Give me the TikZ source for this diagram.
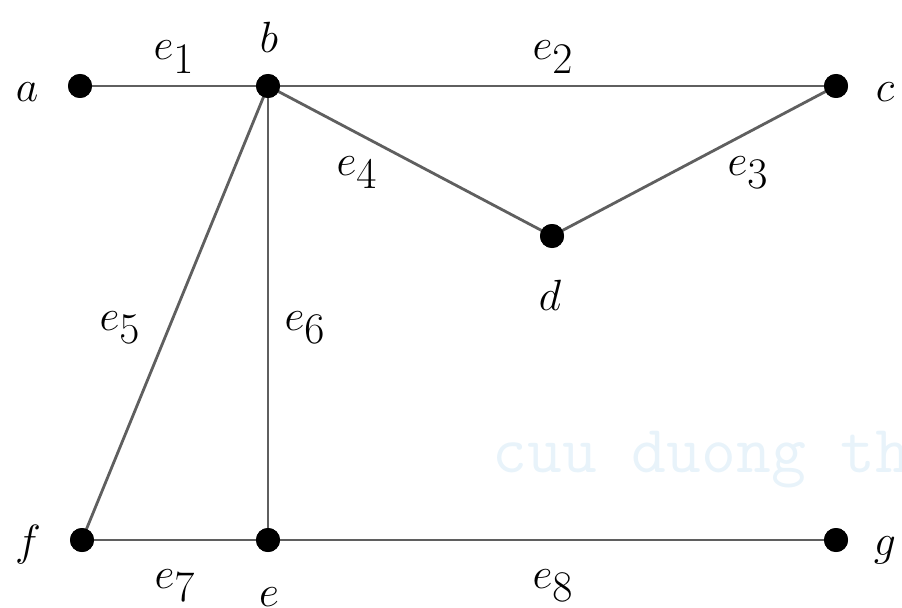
\documentclass[tikz,border=0pt]{standalone}
\usepackage{xcolor}
\definecolor{edgegray}{RGB}{95,95,95}
\definecolor{wmark}{RGB}{232,243,250}
\begin{document}
\begin{tikzpicture}[x=0.02cm,y=-0.02cm,
  vertex/.style={circle,fill=black,inner sep=0pt,minimum size=24*0.02cm},
  lbl/.style={inner sep=0pt,anchor=base,font=\fontsize{37}{42}\selectfont},
  edge/.style={draw=edgegray,line width=1.6pt}]
\useasboundingbox (0,0) rectangle (902,608);
\begin{scope}
\clip (0,0) rectangle (902,608);
\node[inner sep=0pt,anchor=base west,text=wmark,font=\fontsize{38.5}{42}\selectfont\ttfamily] (wm) at (492,472) {cuu duong th};
\end{scope}
\node[vertex] (a) at (80,86) {};
\node[vertex] (b) at (268,86) {};
\node[vertex] (c) at (836,86) {};
\node[vertex] (d) at (552,236) {};
\node[vertex] (e) at (268,540) {};
\node[vertex] (f) at (82,540) {};
\node[vertex] (g) at (836,540) {};
\draw[edge] (a.center) -- (b.center);
\draw[edge] (b.center) -- (c.center);
\draw[edge] (b.center) -- (d.center);
\draw[edge] (d.center) -- (c.center);
\draw[edge] (b.center) -- (f.center);
\draw[edge] (b.center) -- (e.center);
\draw[edge] (f.center) -- (e.center);
\draw[edge] (e.center) -- (g.center);
\node[vertex] at (a) {};
\node[vertex] at (b) {};
\node[vertex] at (c) {};
\node[vertex] at (d) {};
\node[vertex] at (e) {};
\node[vertex] at (f) {};
\node[vertex] at (g) {};
\node[lbl] (la) at (27,102) {$a$};
\node[lbl] (lb) at (269,53) {$b$};
\node[lbl] (lc) at (885,102) {$c$};
\node[lbl] (ld) at (550,310) {$d$};
\node[lbl] (le) at (269,606) {$e$};
\node[lbl] (lf) at (28,555) {$f$};
\node[lbl] (lg) at (885,555) {$g$};
\node[lbl] (e1) at (174,60) {$e_1$};
\node[lbl] (e2) at (553,60) {$e_2$};
\node[lbl] (e3) at (748,175) {$e_3$};
\node[lbl] (e4) at (357,175) {$e_4$};
\node[lbl] (e5) at (120,330) {$e_5$};
\node[lbl] (e6) at (305,330) {$e_6$};
\node[lbl] (e7) at (175,588) {$e_7$};
\node[lbl] (e8) at (553,588) {$e_8$};
\end{tikzpicture}
\end{document}
